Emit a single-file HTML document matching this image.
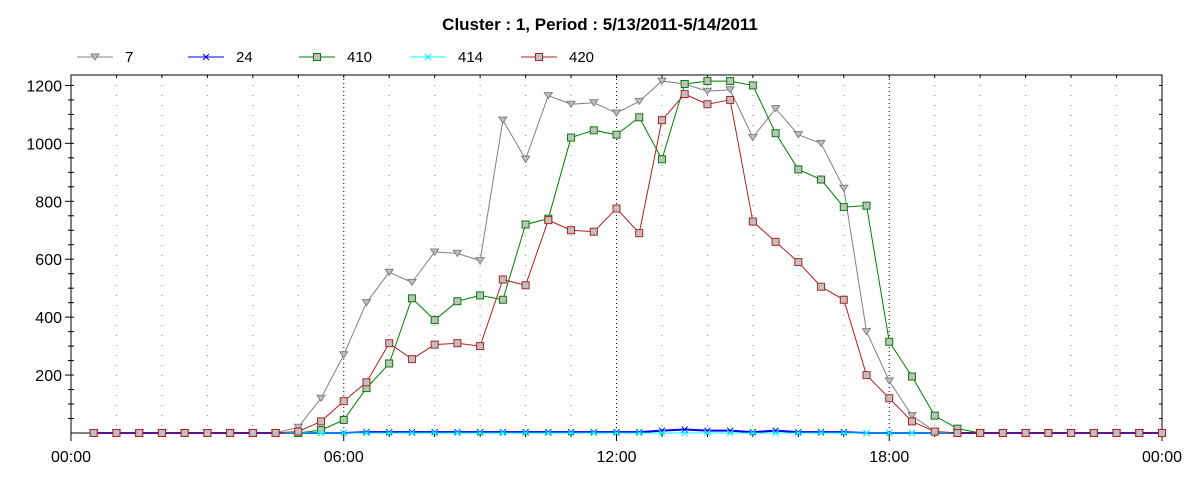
<!DOCTYPE html>
<html><head><meta charset="utf-8"><style>
body{margin:0;background:#fff;width:1200px;height:480px;overflow:hidden;font-family:"Liberation Sans",sans-serif}
</style></head><body>
<svg id="chart" width="1200" height="480" xmlns="http://www.w3.org/2000/svg" font-family="Liberation Sans, sans-serif">
<text x="600" y="30" text-anchor="middle" font-size="17" font-weight="bold">Cluster : 1, Period : 5/13/2011-5/14/2011</text>
<g id="legend"></g>
<g id="grid"></g>
<g id="axes"></g>
<g id="series"></g>
</svg>
<script>
const seriesNames=["7","24","410","414","420"];
const s7=[0,0,0,0,0,0,0,0,0,20,120,270,450,555,520,625,620,595,1080,945,1165,1135,1140,1105,1145,1215,1205,1180,1185,1020,1120,1030,1000,845,350,180,60,5,0,0,0,0,0,0,0,0,0,0];
const s24=[0,0,0,0,0,0,0,0,0,0,0,0,3,3,3,3,3,3,3,3,3,3,3,3,3,8,12,8,8,3,8,3,3,3,0,0,0,0,0,0,0,0,0,0,0,0,0,0];
const s410=[0,0,0,0,0,0,0,0,0,0,10,45,155,240,465,390,455,475,460,720,740,1020,1045,1030,1090,945,1205,1215,1215,1200,1035,910,875,780,785,315,195,60,15,0,0,0,0,0,0,0,0,0];
const s414=[0,0,0,0,0,0,0,0,0,0,0,0,0,0,0,0,0,0,0,0,0,0,0,0,0,0,0,0,0,0,0,0,0,0,0,0,0,0,0,0,0,0,0,0,0,0,0,0];
const s420=[0,0,0,0,0,0,0,0,0,5,40,110,175,310,255,305,310,300,530,510,735,700,695,775,690,1080,1170,1135,1150,730,660,590,505,460,200,120,40,5,0,0,0,0,0,0,0,0,0,0];
const yTicks=[200,400,600,800,1000,1200];
const xTickLabels=["00:00","06:00","12:00","18:00","00:00"];
const X0=71,X1=1162,Y0=433,YT=75,YMAX=1236;
const xs=h=>X0+(h/24)*(X1-X0);
const ys=v=>Y0-(v/YMAX)*(Y0-YT);
const NS="http://www.w3.org/2000/svg";
function mk(tag,parent,attrs){const e=document.createElementNS(NS,tag);for(const k in attrs)e.setAttribute(k,attrs[k]);parent.appendChild(e);return e;}
const grid=document.getElementById('grid'),axes=document.getElementById('axes'),ser=document.getElementById('series'),leg=document.getElementById('legend');
for(let h=1;h<24;h++){const x=xs(h);const major=h%6===0;
 const l=mk('line',grid,{x1:x,x2:x,y1:YT,y2:Y0,stroke:major?'#000':'#888','stroke-width':1,'stroke-dasharray':major?'1,3':'1,9'});
 
 }
const frame=mk('rect',axes,{x:X0,y:YT,width:X1-X0,height:Y0-YT,fill:'none',stroke:'#000','stroke-width':1});


for(let v=50;v<=1200;v+=50){const y=ys(v);const major=v%200===0;
 mk('line',axes,{x1:major?X0-6:X0-3,x2:X0+3,y1:y,y2:y,stroke:'#000'});
 mk('line',axes,{x1:X1-3,x2:X1,y1:y,y2:y,stroke:'#000'});}
yTicks.forEach(v=>{const t=mk('text',axes,{x:X0-9,y:ys(v)+6,'text-anchor':'end','font-size':16});t.textContent=v;
 
 });
for(let h=0;h<=24;h++){const x=xs(h);mk('line',axes,{x1:x,x2:x,y1:Y0,y2:Y0+(h%6===0?8:4),stroke:'#000'});
 if(h<24)mk('line',axes,{x1:x,x2:x,y1:YT,y2:YT+3,stroke:'#000'});}
xTickLabels.forEach((s,i)=>{const t=mk('text',axes,{x:xs(i*6),y:462,'text-anchor':'middle','font-size':16});t.textContent=s;
 
 });
const styles=[{d:s7,c:'#808080',m:'tri'},{d:s24,c:'#0000ff',m:'x'},{d:s410,c:'#008000',m:'sq'},{d:s414,c:'#00ffff',m:'x'},{d:s420,c:'#b22222',m:'sq'}];
function marker(g,m,x,y,c){
 if(m==='sq')mk('rect',g,{x:x-3.5,y:y-3.5,width:7,height:7,fill:'#c0c0c0',stroke:c});
 else if(m==='tri')mk('path',g,{d:`M${x-4},${y-3}L${x+4},${y-3}L${x},${y+3}Z`,fill:'#c0c0c0',stroke:c});
 else mk('path',g,{d:`M${x-3},${y-3}L${x+3},${y+3}M${x+3},${y-3}L${x-3},${y+3}`,stroke:c,fill:'none'});}
styles.forEach((st,k)=>{const g=mk('g',ser,{});
 
 
 const pts=st.d.map((v,i)=>[xs((i+1)/2),ys(v)]);
 mk('polyline',g,{points:pts.map(p=>p.join(',')).join(' '),fill:'none',stroke:st.c,'stroke-width':k===1?2:1});
 pts.forEach(p=>marker(g,st.m,p[0],p[1],st.c));
 const lx=77+k*111,ly=57;const lg=mk('g',leg,{});
 
 
 mk('line',lg,{x1:lx,x2:lx+36,y1:ly,y2:ly,stroke:st.c});marker(lg,st.m,lx+18,ly,st.c);
 const t=mk('text',lg,{x:lx+48,y:ly+5,'font-size':15});t.textContent=seriesNames[k];});
</script>
</body></html>
